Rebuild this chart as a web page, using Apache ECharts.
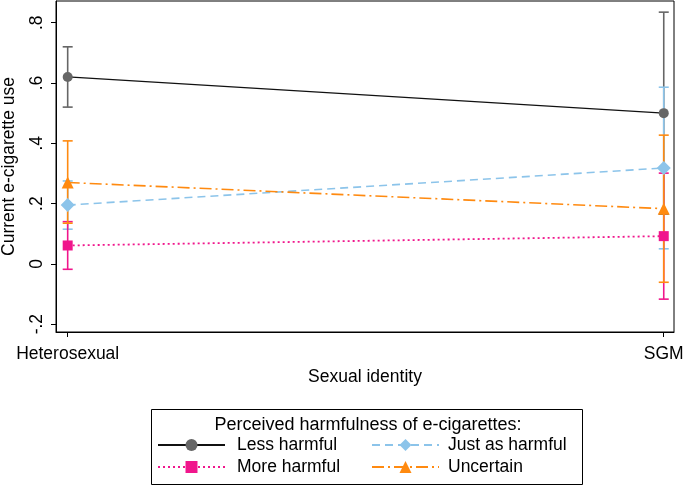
<!DOCTYPE html>
<html><head><meta charset="utf-8">
<script src="https://cdn.jsdelivr.net/npm/echarts@6/dist/echarts.min.js"></script>
<style>html,body{margin:0;padding:0;background:#fff}#c{width:685px;height:486px}</style>
</head><body><div id="c"></div>
<script>
// ---- data ----
const categories = ['Heterosexual', 'SGM'];
const yTickValues = [-0.2, 0, 0.2, 0.4, 0.6, 0.8];
const yTickLabels = ['-.2', '0', '.2', '.4', '.6', '.8'];
const legendTitle = 'Perceived harmfulness of e-cigarettes:';
const seriesNames = ['Less harmful', 'More harmful', 'Just as harmful', 'Uncertain'];
const lessMean = [0.62, 0.50];
const lessLo   = [0.52, 0.165];
const lessHi   = [0.72, 0.835];
const moreMean = [0.061, 0.092];
const moreLo   = [-0.018, -0.117];
const moreHi   = [0.14, 0.301];
const justMean = [0.195, 0.318];
const justLo   = [0.115, 0.05];
const justHi   = [0.275, 0.586];
const uncMean  = [0.27, 0.183];
const uncLo    = [0.135, -0.061];
const uncHi    = [0.408, 0.427];

const FONT = '"Liberation Sans", Arial, Helvetica, sans-serif';
const FS = 17.5;
const C_LESS_LINE = '#111111', C_LESS = '#666666';
const C_MORE = '#f0168c', C_JUST = '#8cc4ea', C_UNC = '#ff8a10';

function pts(arr) { return arr.map((v, i) => [i, v]); }
function ci(lo, hi) { return lo.map((v, i) => [i, v, hi[i]]); }
function errRender(color) {
  return function (params, api) {
    const x = api.value(0), lo = api.value(1), hi = api.value(2);
    const a = api.coord([x, lo]), b = api.coord([x, hi]);
    const hw = 5;
    const style = { stroke: color, lineWidth: 1.6, fill: null };
    return { type: 'group', children: [
      { type: 'line', shape: { x1: a[0], y1: a[1], x2: b[0], y2: b[1] }, style },
      { type: 'line', shape: { x1: a[0] - hw, y1: a[1], x2: a[0] + hw, y2: a[1] }, style },
      { type: 'line', shape: { x1: b[0] - hw, y1: b[1], x2: b[0] + hw, y2: b[1] }, style }
    ]};
  };
}
function errSeries(name, lo, hi, color) {
  return { type: 'custom', name: name, data: ci(lo, hi), renderItem: errRender(color),
    z: 2, silent: true, encode: { x: 0, y: [1, 2] } };
}
function lineSeries(name, data, lineColor, lineType, lineWidth, symbol, size, mColor) {
  return { type: 'line', name: name, data: pts(data), z: 5,
    symbol: symbol, symbolSize: size, showSymbol: true,
    lineStyle: { color: lineColor, type: lineType, width: lineWidth },
    itemStyle: { color: mColor, borderWidth: 0 },
    color: mColor, animation: false };
}

const chart = echarts.init(document.getElementById('c'), null, { renderer: 'canvas' });
const legendBase = {
  orient: 'vertical', top: 436, itemWidth: 67, itemHeight: 15, itemGap: 4, padding: 0,
  selectedMode: false
};
chart.setOption({
  animation: false,
  textStyle: { fontFamily: FONT },
  grid: { left: 56, right: 11, top: 1, bottom: 154, show: true, borderColor: '#000', borderWidth: 1,
    containLabel: false, outerBoundsMode: 'none' },
  xAxis: {
    type: 'value', min: -0.0196, max: 1.0172,
    name: 'Sexual identity', nameLocation: 'middle', nameGap: 32,
    nameTextStyle: { fontFamily: FONT, fontSize: FS, color: '#000' },
    axisLine: { show: true, onZero: false, lineStyle: { color: '#000' } },
    axisTick: { show: true, length: 5, lineStyle: { color: '#000' }, customValues: [0, 1] },
    axisLabel: { customValues: [0, 1], formatter: v => categories[Math.round(v)], fontSize: FS, color: '#000', margin: 13, fontFamily: FONT },
    splitLine: { show: false }
  },
  yAxis: {
    type: 'value', min: -0.226, max: 0.872,
    name: 'Current e-cigarette use', nameLocation: 'middle', nameGap: 38, nameRotate: 90,
    nameTextStyle: { fontFamily: FONT, fontSize: FS, color: '#000' },
    axisLine: { show: true, onZero: false, lineStyle: { color: '#000' } },
    axisTick: { show: true, length: 5, lineStyle: { color: '#000' }, customValues: yTickValues },
    axisLabel: { customValues: yTickValues, rotate: 90, fontSize: FS, color: '#000', margin: 10, fontFamily: FONT,
      formatter: v => { const i = yTickValues.findIndex(t => Math.abs(t - v) < 1e-6); return i >= 0 ? yTickLabels[i] : ''; } },
    splitLine: { show: false }
  },
  legend: [
    Object.assign({}, legendBase, { left: 157, data: [seriesNames[0], seriesNames[1]],
      textStyle: { fontFamily: FONT, fontSize: FS, color: '#000', padding: [0, 0, 0, 7] } }),
    Object.assign({}, legendBase, { left: 371, data: [seriesNames[2], seriesNames[3]],
      textStyle: { fontFamily: FONT, fontSize: FS, color: '#000', padding: [0, 0, 0, 4] } })
  ],
  graphic: [
    { type: 'rect', shape: { x: 151.5, y: 409.5, width: 431, height: 75 }, style: { fill: null, stroke: '#000', lineWidth: 1 }, z: 100 },
    { type: 'text', x: 368, y: 425, style: { text: legendTitle, font: '18px ' + FONT, fill: '#000', textAlign: 'center', textVerticalAlign: 'middle' }, z: 100 }
  ],
  series: [
    errSeries('ci_less', lessLo, lessHi, C_LESS),
    errSeries('ci_just', justLo, justHi, C_JUST),
    errSeries('ci_more', moreLo, moreHi, C_MORE),
    errSeries('ci_unc', uncLo, uncHi, C_UNC),
    lineSeries(seriesNames[0], lessMean, C_LESS_LINE, 'solid', 1.3, 'circle', 10, C_LESS),
    lineSeries(seriesNames[1], moreMean, C_MORE, [2, 3], 1.8, 'rect', 10, C_MORE),
    lineSeries(seriesNames[2], justMean, C_JUST, [8, 5], 1.6, 'diamond', 14, C_JUST),
    lineSeries(seriesNames[3], uncMean, C_UNC, [12, 4, 2, 4], 1.6, 'triangle', 12, C_UNC)
  ]
});
</script>
</body></html>
